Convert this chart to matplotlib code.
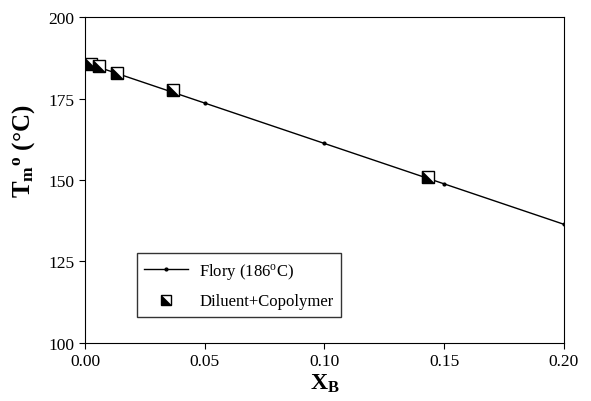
import matplotlib
matplotlib.use("Agg")
import matplotlib.pyplot as plt

plt.rcParams['font.family'] = 'Liberation Serif'
plt.rcParams['mathtext.fontset'] = 'custom'
plt.rcParams['mathtext.rm'] = 'Liberation Serif'
plt.rcParams['mathtext.bf'] = 'Liberation Serif:bold'
plt.rcParams['mathtext.it'] = 'Liberation Serif:italic'

# Flory prediction (186 oC)
flory_x = [0.0, 0.05, 0.10, 0.15, 0.20]
flory_t = [186.0, 173.6, 161.2, 148.8, 136.4]

# diluent + copolymer data
dil_x = [0.0025, 0.0058, 0.0134, 0.0367, 0.1432]
dil_t = [185.6, 185.0, 182.8, 177.6, 150.8]

xticks = [0.00, 0.05, 0.10, 0.15, 0.20]
yticks = [100, 125, 150, 175, 200]

fig = plt.figure(figsize=(5.91, 4.02), dpi=100)
ax = fig.add_axes([0.1438, 0.1443, 0.8105, 0.8109])

ax.plot(flory_x, flory_t, color='black', lw=1.0, marker='o', ms=2)

# half filled square: white square with a black lower-left triangle
tri = [(-1, -1), (-1, 1), (1, -1)]
ax.plot(dil_x, dil_t, ls='none', marker='s', ms=9, mfc='white',
        mec='black', mew=1.0)
ax.plot(dil_x, dil_t, ls='none', marker=tri, ms=9, mfc='black',
        mec='black', mew=0.5)

# legend proxy for the half filled square
h_sq, = ax.plot([], [], ls='none', marker='s', ms=7, mfc='white', mec='black', mew=1.0)
h_tri, = ax.plot([], [], ls='none', marker=tri, ms=7, mfc='black', mec='black', mew=0.5)
h_line = ax.get_lines()[0]

leg = ax.legend([h_line, (h_sq, h_tri)], ['Flory (186$^{\\rm o}$C)', 'Diluent+Copolymer'],
                loc='lower left', bbox_to_anchor=(0.108, 0.08), borderaxespad=0,
                fancybox=False, edgecolor='black', fontsize=12, handlelength=2.6,
                handletextpad=0.7, borderpad=0.45, labelspacing=0.75, shadow=False)
leg.get_frame().set_linewidth(1.0)

ax.set_xlim(0, 0.20)
ax.set_ylim(100, 200)
ax.set_xticks(xticks)
ax.set_xticklabels(['%.2f' % v for v in xticks])
ax.set_yticks(yticks)
ax.tick_params(direction='out', length=4, labelsize=12.5)

ax.set_xlabel('$\\mathbf{X_B}$', fontsize=17, labelpad=2)
ax.set_ylabel('$\\mathbf{T_m}^{\\mathbf{o}}$ (°C)', fontsize=18, fontweight='bold')
ax.yaxis.set_label_coords(-0.100, 0.59)

fig.savefig('out.png', dpi=100)
